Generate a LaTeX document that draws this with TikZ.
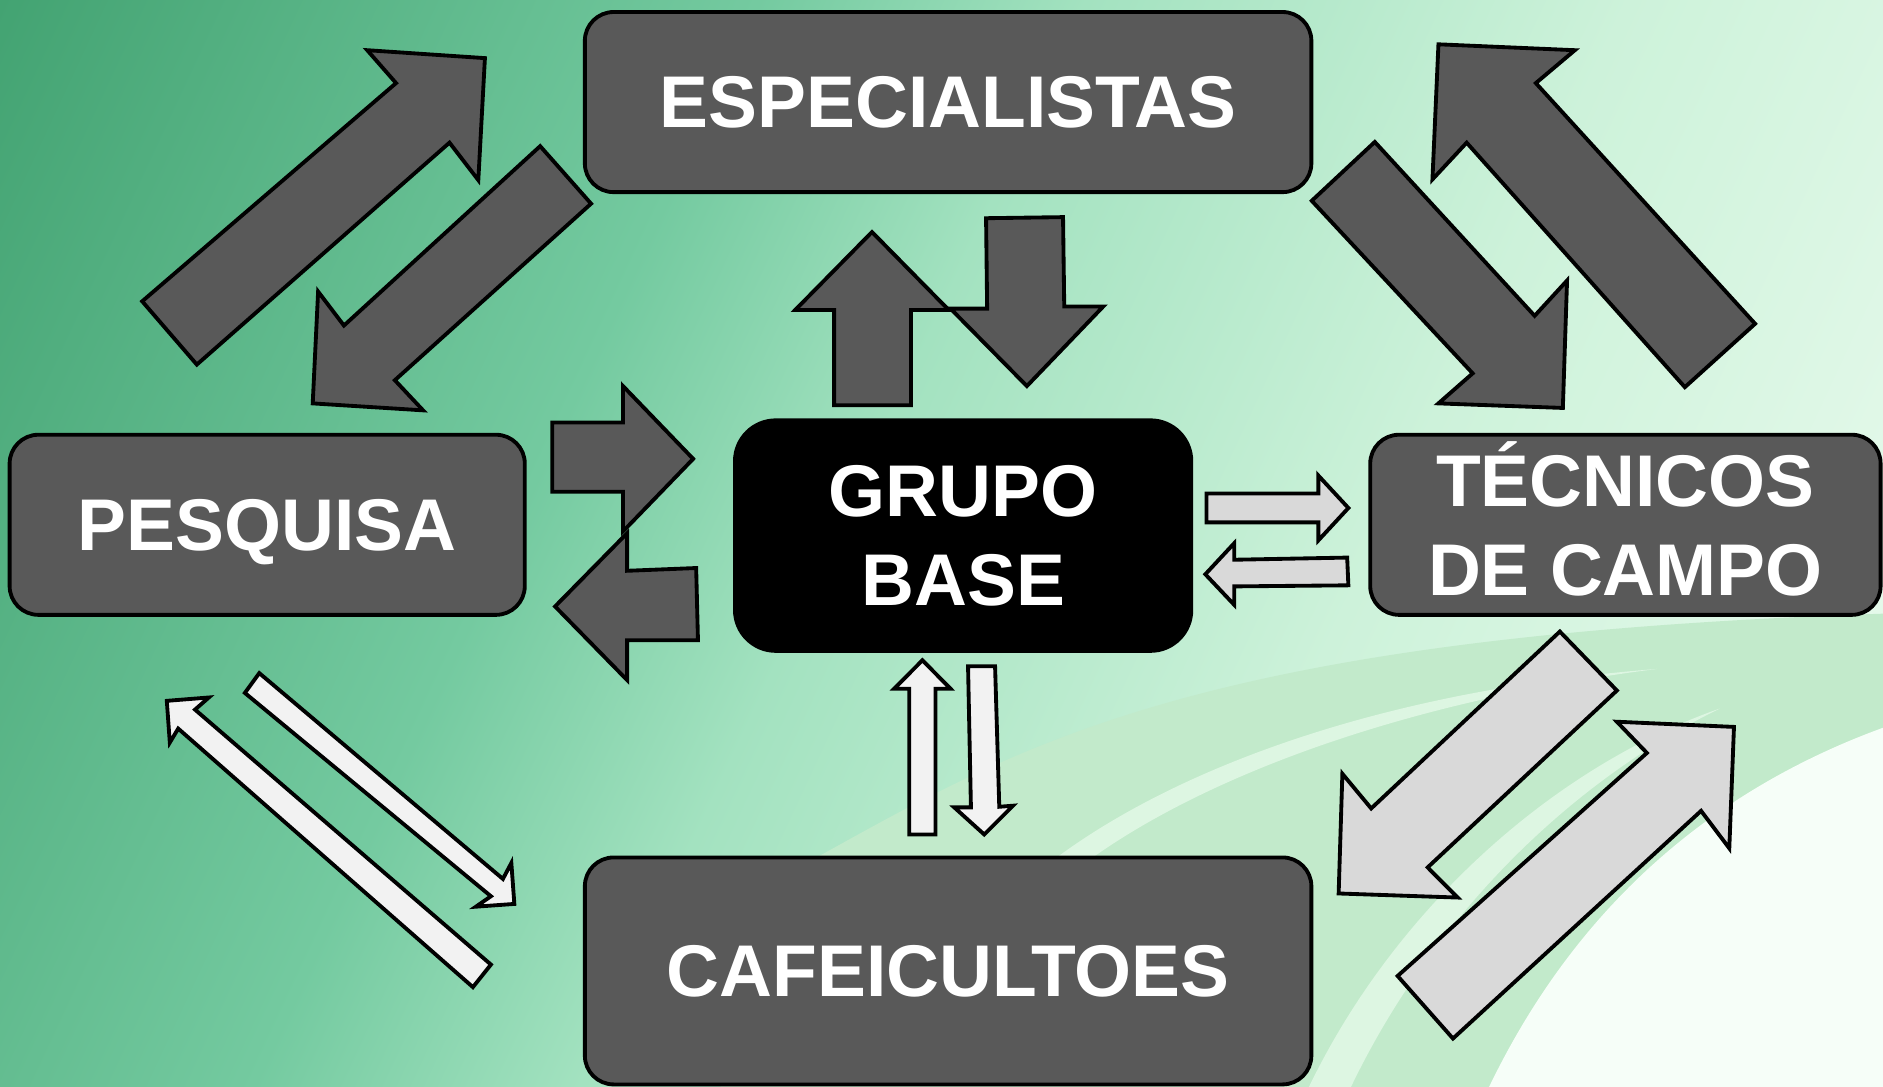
\documentclass[tikz,border=0pt]{standalone}
\usepackage{fontspec}
\setmainfont{Liberation Sans}
\definecolor{bgA}{HTML}{43A372}
\definecolor{bgB}{HTML}{74CAA0}
\definecolor{bgC}{HTML}{A3E2C0}
\definecolor{bgD}{HTML}{CDF2DA}
\definecolor{bgE}{HTML}{EEFCF1}
\definecolor{swgreen}{HTML}{C2EACB}
\definecolor{swlight}{HTML}{DDF6E2}
\definecolor{swwhite}{HTML}{F6FEF8}
\definecolor{boxgray}{HTML}{595959}
\definecolor{arrlight}{HTML}{D9D9D9}
\definecolor{arrwhite}{HTML}{F2F2F2}
\pgfdeclarehorizontalshading{bgshade}{100bp}{color(0bp)=(bgA); color(16.8bp)=(bgA); color(37.9bp)=(bgB); color(47bp)=(bgC); color(62.1bp)=(bgD); color(83.2bp)=(bgE); color(100bp)=(bgE)}
\begin{document}
\begin{tikzpicture}[x=1pt,y=-1pt,
  box/.style={draw=black, line width=3.2pt, fill=boxgray, rounded corners=24pt, text=white,
    font=\fontsize{61}{74}\selectfont\bfseries, align=center, inner sep=0pt},
  darrow/.style={draw=black, line width=3.2pt, fill=boxgray},
  larrow/.style={draw=black, line width=3.2pt, fill=arrlight},
  warrow/.style={draw=black, line width=3.2pt, fill=arrwhite}]
\useasboundingbox (0,0) rectangle (1568,905);
% background
\shade[shading=bgshade, shading angle=-25] (0,0) rectangle (1568,905);
\fill[swgreen] (680,714) .. controls (850,620) and (1000,530) .. (1568,511) -- (1568,905) -- (600,905) -- cycle;
\fill[swlight] (880,714) .. controls (980,640) and (1150,575) .. (1380,557) .. controls (1160,585) and (1000,650) .. (910,714) -- cycle;
\fill[swlight] (1090,905) .. controls (1160,760) and (1290,640) .. (1432,590) .. controls (1300,655) and (1190,770) .. (1125,905) -- cycle;
\fill[swwhite] (1240,905) .. controls (1310,760) and (1420,660) .. (1568,606) -- (1568,905) -- cycle;
% boxes
\node[box, minimum width=605, minimum height=150] (esp) at (789.5,85) {ESPECIALISTAS};
\node[box, minimum width=429, minimum height=150] (pes) at (222.5,437) {PES\raisebox{0pt}[\height][0pt]{Q}UISA};
\node[box, fill=black, rounded corners=34pt, minimum width=380, minimum height=192] (grp) at (802,446) {GRUPO\\BASE};
\node[box, minimum width=425, minimum height=150] (tec) at (1353.5,437) {T\raisebox{0pt}[0.72em][0pt]{É}CNICOS\\DE CAMPO};
\node[box, minimum width=605, minimum height=189] (caf) at (789.5,808.5) {CAFEICULTOES};
% dark arrows
\draw[darrow] (118.4,250.9) -- (329.8,69.2) -- (305.8,41.8) -- (403.8,48.4) -- (398.3,150.0) -- (374.3,118.8) -- (163.9,303.6) -- cycle;
\draw[darrow] (449.8,121.7) -- (492.2,169.6) -- (328.8,316.6) -- (352.3,341.7) -- (260.4,335.9) -- (264.9,242.8) -- (286.4,271.1) -- cycle;
\draw[darrow] (459.8,351.8) -- (518.8,351.8) -- (518.8,321.5) -- (577.2,382.1) -- (518.8,442.5) -- (518.8,409.5) -- (459.8,409.5) -- cycle;
\draw[darrow] (522.2,444) -- (462.2,505.0) -- (522.2,566.3) -- (522.2,533.1) -- (581.2,533.1) -- (579.7,473) -- (522.2,475.3) -- cycle;
\draw[darrow] (694.6,337.4) -- (694.6,258.1) -- (662.2,258.1) -- (726.1,193.2) -- (790,258.1) -- (758.6,258.1) -- (758.6,337.4) -- cycle;
\draw[darrow] (821.1,181.7) -- (885.2,180.8) -- (886.2,255.2) -- (918.7,255.2) -- (855.1,321.5) -- (791.5,257) -- (822,257) -- cycle;
\draw[darrow] (1144.8,118.2) -- (1092.3,167.2) -- (1226.3,310.9) -- (1197.8,335.9) -- (1301.4,339.7) -- (1304.9,233.6) -- (1277.9,263) -- cycle;
\draw[darrow] (1197.8,36.9) -- (1311.4,41.8) -- (1278.9,69.2) -- (1461.5,269.6) -- (1403,322.4) -- (1221.3,118.8) -- (1192.8,149.4) -- cycle;
% light gray arrows
\draw[larrow] (1004.7,410.9) -- (1097.8,410.9) -- (1097.8,396) -- (1122.8,423) -- (1097.8,450) -- (1097.8,435) -- (1004.7,435) -- cycle;
\draw[larrow] (1027.7,452.4) -- (1003.7,478.2) -- (1027.7,503.6) -- (1027.7,488.3) -- (1122.8,487.4) -- (1121.8,464.3) -- (1027.7,466.1) -- cycle;
\draw[larrow] (1298.9,525.9) -- (1346.4,575) -- (1188.8,722.3) -- (1213.8,747.4) -- (1114.7,744) -- (1117.8,644.3) -- (1141.8,673.2) -- cycle;
\draw[larrow] (1346.4,601) -- (1443.9,605.3) -- (1440,706.4) -- (1416.5,675.2) -- (1209.9,864.8) -- (1163.8,812.7) -- (1371.4,627) -- cycle;
% white arrows
\draw[warrow] (757.1,694.9) -- (757.1,573.5) -- (744.6,573.5) -- (768.1,549.8) -- (791.5,573.5) -- (779,573.5) -- (779,694.9) -- cycle;
\draw[warrow] (806.1,554.8) -- (828.6,554.8) -- (832.1,671.8) -- (843.6,670.9) -- (819.6,694.9) -- (794.6,672.3) -- (808.5,672.3) -- cycle;
\draw[warrow] (215.9,560.5) -- (203.9,577) -- (408.8,746.3) -- (396.3,755) -- (428.3,752.7) -- (425.8,718.6) -- (418.8,731.9) -- cycle;
\draw[warrow] (138.9,583.6) -- (173.9,580.8) -- (162.4,590.9) -- (408.8,803.2) -- (393.8,822) -- (148.4,606.7) -- (141.4,618.3) -- cycle;
\end{tikzpicture}
\end{document}
